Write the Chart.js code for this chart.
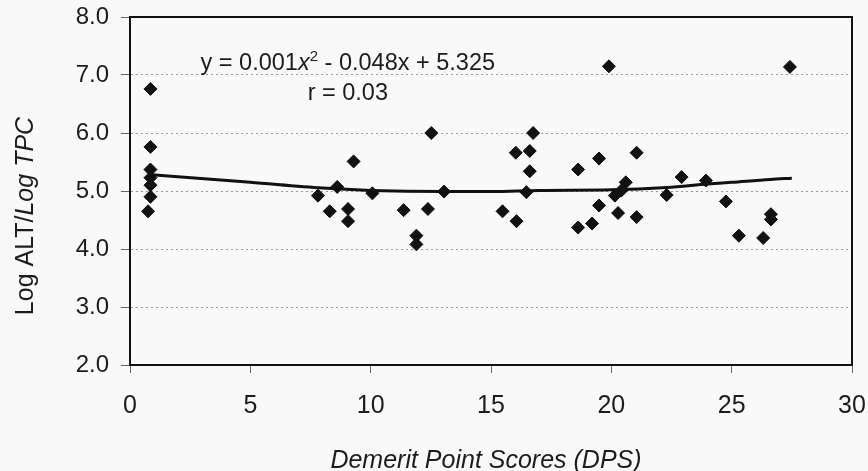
<!DOCTYPE html>
<html>
<head>
<meta charset="utf-8">
<script src="https://cdn.jsdelivr.net/npm/chart.js@4.4.1/dist/chart.umd.min.js"></script>
<style>
	html, body { margin: 0; padding: 0; background: #f9f9f9; }
	#wrap { width: 868px; height: 471px; }
</style>
</head>
<body>
<div id="wrap"><canvas id="myChart" width="868" height="471"></canvas></div>
<script>
'use strict';

// Demerit point scores (x) and Log ALT / Log TPC (y)
const dpsScores = [
	0.85, 0.85, 0.85, 0.85, 0.85, 0.85, 0.75,
	7.81, 8.3, 8.61, 9.06, 9.06, 9.29, 10.07,
	11.37, 11.9, 11.9, 12.38, 12.52, 13.05,
	15.48, 16.03, 16.06, 16.47, 16.61, 16.61, 16.75,
	18.62, 18.62, 19.2, 19.49, 19.49, 19.9, 20.15, 20.28, 20.42, 20.6, 21.05, 21.05,
	22.3, 22.92, 23.93, 24.76, 25.3, 26.31, 26.63, 26.63, 27.42
];
const logRatio = [
	6.76, 5.76, 5.37, 5.23, 5.10, 4.90, 4.65,
	4.92, 4.65, 5.07, 4.69, 4.48, 5.51, 4.96,
	4.67, 4.23, 4.08, 4.69, 6.00, 4.99,
	4.65, 5.66, 4.48, 4.98, 5.69, 5.34, 6.00,
	5.37, 4.37, 4.44, 5.56, 4.75, 7.15, 4.92, 4.62, 5.01, 5.15, 5.66, 4.55,
	4.93, 5.24, 5.18, 4.82, 4.23, 4.19, 4.60, 4.51, 7.14
];

// polynomial trend line
const trendX = [0.9, 5, 8, 10, 13, 15, 17, 20, 22.3, 24, 25, 26.6, 27.5];
const trendY = [5.28, 5.15, 5.05, 5.01, 4.99, 4.99, 5.01, 5.02, 5.06, 5.12, 5.15, 5.20, 5.22];

const xTicks = [0, 5, 10, 15, 20, 25, 30];
const yTicks = [2, 3, 4, 5, 6, 7, 8];

const eqParts = ['y = 0.001', 'x', '2', ' - 0.048x + 5.325'];
const rText = 'r = 0.03';
const xTitle = 'Demerit Point Scores (DPS)';
const yTitleParts = ['Log ALT/', 'Log TPC'];

const FONT = '"Liberation Sans", Arial, sans-serif';
const INK = '#1c1c1c';

const decor = {
	id: 'decor',
	beforeDraw(chart) {
		const c = chart.ctx;
		c.save();
		c.fillStyle = '#f9f9f9';
		c.fillRect(0, 0, chart.width, chart.height);
		c.restore();
	},
	afterDraw(chart) {
		const c = chart.ctx;
		const a = chart.chartArea;
		const xs = chart.scales.x;
		const ys = chart.scales.y;
		c.save();
		// frame
		c.strokeStyle = '#111';
		c.lineWidth = 2;
		c.strokeRect(a.left, a.top, a.right - a.left, a.bottom - a.top);

		c.fillStyle = INK;
		c.textBaseline = 'alphabetic';

		// equation
		const fN = '23.5px ' + FONT;
		const fI = 'italic 23.5px ' + FONT;
		const fS = '15px ' + FONT;
		c.font = fN; const w0 = c.measureText(eqParts[0]).width;
		c.font = fI; const w1 = c.measureText(eqParts[1]).width;
		c.font = fS; const w2 = c.measureText(eqParts[2]).width;
		c.font = fN; const w3 = c.measureText(eqParts[3]).width;
		const cx = xs.getPixelForValue(9.05);
		const by = ys.getPixelForValue(7.08);
		let px = cx - (w0 + w1 + w2 + w3) / 2;
		c.font = fN; c.fillText(eqParts[0], px, by); px += w0;
		c.font = fI; c.fillText(eqParts[1], px, by); px += w1;
		c.font = fS; c.fillText(eqParts[2], px, by - 9); px += w2;
		c.font = fN; c.fillText(eqParts[3], px, by);
		c.textAlign = 'center';
		c.fillText(rText, cx, by + 30);

		// x title
		c.font = 'italic 25px ' + FONT;
		c.fillText(xTitle, 486, 468);

		// y title, rotated, mixed styles
		c.translate(33, 216);
		c.rotate(-Math.PI / 2);
		c.textAlign = 'left';
		c.font = '25px ' + FONT;
		const t0 = c.measureText(yTitleParts[0]).width;
		c.font = 'italic 25px ' + FONT;
		const t1 = c.measureText(yTitleParts[1]).width;
		let tx = -(t0 + t1) / 2;
		c.font = '25px ' + FONT;
		c.fillText(yTitleParts[0], tx, 0);
		c.font = 'italic 25px ' + FONT;
		c.fillText(yTitleParts[1], tx + t0, 0);
		c.restore();
	}
};

const ctx = document.getElementById('myChart');

new Chart(ctx, {
	type: 'scatter',
	data: {
		datasets: [{
			label: 'Log ALT/Log TPC',
			data: dpsScores.map((x, i) => ({ x: x, y: logRatio[i] })),
			pointStyle: 'rectRot',
			pointRadius: 6.5,
			pointHoverRadius: 6.5,
			backgroundColor: '#111',
			borderColor: '#111',
			borderWidth: 1,
			order: 0,
		}, {
			type: 'line',
			label: 'trend',
			data: trendX.map((x, i) => ({ x: x, y: trendY[i] })),
			borderColor: '#111',
			borderWidth: 3,
			pointRadius: 0,
			cubicInterpolationMode: 'monotone',
			fill: false,
			order: 1,
		}]
	},
	options: {
		responsive: false,
		animation: false,
		devicePixelRatio: 1,
		layout: { padding: { top: 17, right: 16, left: 0, bottom: 0 } },
		plugins: {
			legend: { display: false },
			tooltip: { enabled: false },
		},
		scales: {
			x: {
				type: 'linear',
				min: 0,
				max: 30,
				afterBuildTicks: (s) => { s.ticks = xTicks.map(v => ({ value: v })); },
				afterFit: (s) => {
					s.height = 106;
					s.paddingLeft = 0;
					s.paddingRight = 0;
				},
				ticks: {
					color: INK,
					font: { family: FONT, size: 25 },
					padding: 18,
					maxRotation: 0,
				},
				grid: {
					drawOnChartArea: false,
					drawTicks: true,
					tickLength: 8,
					tickColor: '#666',
					tickWidth: 1,
				},
				border: { display: true, color: '#111', width: 2 },
			},
			y: {
				min: 2,
				max: 8,
				afterBuildTicks: (s) => { s.ticks = yTicks.map(v => ({ value: v })); },
				afterFit: (s) => {
					s.width = 130;
					s.paddingTop = 0;
					s.paddingBottom = 0;
				},
				ticks: {
					color: INK,
					font: { family: FONT, size: 24 },
					padding: 12,
					callback: (v) => Number(v).toFixed(1),
				},
				grid: {
					color: '#9a9a9a',
					lineWidth: 1,
					drawTicks: true,
					tickLength: 9,
					tickColor: '#666',
					tickWidth: 1,
				},
				border: { display: true, color: '#111', width: 2, dash: [2, 3] },
			}
		}
	},
	plugins: [decor]
});
</script>
</body>
</html>
